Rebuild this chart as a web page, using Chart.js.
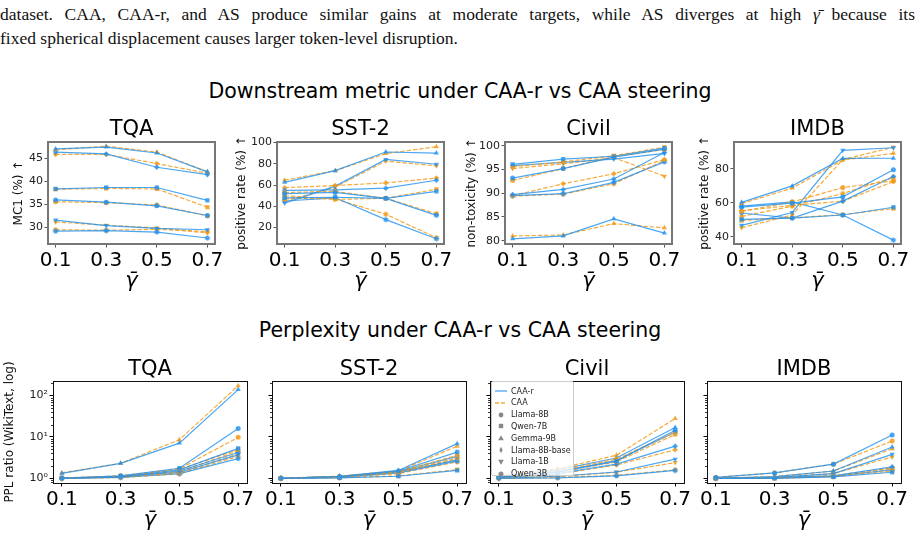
<!DOCTYPE html>
<html>
<head>
<meta charset="utf-8">
<script src="https://cdn.jsdelivr.net/npm/chart.js@4.4.1/dist/chart.umd.min.js"></script>
<style>
  html, body { margin: 0; padding: 0; background: #fff; }
  body { position: relative; width: 920px; height: 539px; overflow: hidden; font-family: "DejaVu Sans", sans-serif; color: #000; }
  .para { position: absolute; left: 0; font-family: "Liberation Serif", serif; font-size: 17.5px; line-height: 24px; color: #111; }
  #line1 { top: 2px; width: 915px; text-align: justify; text-align-last: justify; }
  #line2 { top: 26px; white-space: nowrap; }
  .sup { position: absolute; left: 0; width: 920px; text-align: center; font-size: 20.5px; line-height: 24px; }
  .ptitle { position: absolute; text-align: center; font-size: 21px; line-height: 24px; }
  canvas { position: absolute; }
  #legend { position: absolute; left: 491px; top: 381px; width: 83px; height: 95px; box-sizing: border-box;
            border: 1px solid #ccc; border-radius: 2px; background: rgba(255,255,255,0.8); z-index: 5; }
  .lrow { position: absolute; left: 3px; height: 12px; display: flex; align-items: center; font-size: 8px; color: #222; }
  .lrow svg { width: 12px; height: 8px; margin-right: 4px; }
</style>
</head>
<body>
<div class="para" id="line1">dataset. CAA, CAA-r, and AS produce similar gains at moderate targets, while AS diverges at high <i>γ̄</i> because its</div>
<div class="para" id="line2">fixed spherical displacement causes larger token-level disruption.</div>
<div class="sup" style="top:79px">Downstream metric under CAA-r vs CAA steering</div>
<div class="sup" style="top:318px">Perplexity under CAA-r vs CAA steering</div>
<div id="legend"></div>
<script>
const gammaTicks = [0.1, 0.3, 0.5, 0.7];
const models = ['Llama-8B', 'Qwen-7B', 'Gemma-9B', 'Llama-8B-base', 'Llama-1B', 'Qwen-3B'];
const datasetNames = ['TQA', 'SST-2', 'Civil', 'IMDB'];

const tqaTicks = [30, 35, 40, 45];
const sstTicks = [20, 40, 60, 80, 100];
const civilTicks = [80, 85, 90, 95, 100];
const imdbTicks = [40, 60, 80];
const logTickValues = [1, 10, 100];
const logTickLabels = ['10\u2070', '10\u00B9', '10\u00B2'];

// downstream metric, rows follow `models`
const tqaCaaR = [[36.0, 35.5, 34.7, 32.6], [38.4, 38.7, 38.7, 35.9], [47.1, 47.5, 46.2, 42.1],
                 [46.4, 46.0, 43.1, 41.5], [31.6, 30.4, 29.8, 29.5], [29.2, 29.3, 29.0, 27.7]];
const tqaCaa  = [[35.6, 35.4, 34.9, 32.5], [38.3, 38.5, 38.4, 34.4], [46.9, 47.7, 46.4, 42.1],
                 [45.9, 45.9, 43.9, 41.8], [31.2, 30.5, 29.9, 28.8], [29.5, 29.4, 29.6, 29.1]];
const sstCaaR = [[52, 53, 47.5, 31.5], [48, 48.5, 47.5, 54], [62.5, 73.5, 91, 90],
                 [55, 55.5, 57, 64.5], [43, 59, 84, 79.5], [45, 48, 27.5, 9.5]];
const sstCaa  = [[53, 54, 47.5, 33], [50, 46.5, 47.5, 56], [64.5, 73.5, 89.5, 96],
                 [57.5, 59.5, 62, 66.5], [45, 58, 82.5, 78], [47.5, 47, 32.5, 10.5]];
const civilCaaR = [[93.2, 95.2, 97.6, 99.3], [96.1, 97.2, 97.8, 99.5], [80.4, 81.0, 84.6, 81.6],
                   [89.7, 90.8, 93.0, 98.6], [95.8, 96.5, 97.2, 98.4], [89.5, 89.9, 92.3, 96.6]];
const civilCaa  = [[92.7, 95.2, 97.7, 99.2], [95.6, 96.6, 97.9, 99.7], [81.0, 81.2, 83.6, 82.7],
                   [89.5, 92.0, 94.1, 97.1], [95.2, 96.2, 97.5, 93.6], [89.4, 89.8, 92.0, 96.9]];
const imdbCaaR = [[57.5, 59.8, 63.5, 79.5], [50.2, 51.0, 52.8, 57.4], [60.3, 70.0, 86.2, 86.3],
                  [54.0, 51.0, 61.0, 75.5], [46.7, 54.3, 91.0, 92.5], [58.0, 60.5, 52.8, 38.0]];
const imdbCaa  = [[55.0, 60.5, 69.0, 73.0], [49.6, 51.2, 53.0, 56.6], [59.5, 68.7, 85.2, 89.2],
                  [55.3, 58.5, 61.0, 72.5], [45.3, 52.8, 85.5, 92.8], [52.0, 58.0, 65.5, 75.0]];

// perplexity ratio
const pplTqaCaaR = [[1.0, 1.15, 1.75, 16], [1.02, 1.1, 1.6, 5.3], [1.32, 2.3, 7.1, 140],
                    [1.0, 1.08, 1.5, 4.2], [1.0, 1.1, 1.4, 3.7], [1.0, 1.05, 1.3, 3.0]];
const pplTqaCaa  = [[1.0, 1.15, 1.7, 9.8], [1.03, 1.12, 1.65, 5.0], [1.35, 2.3, 8.6, 173],
                    [1.0, 1.1, 1.45, 4.6], [1.01, 1.06, 1.35, 3.9], [1.0, 1.04, 1.28, 3.4]];
const pplSstCaaR = [[1.0, 1.1, 1.5, 4.3], [1.0, 1.02, 1.12, 1.55], [1.0, 1.12, 1.55, 6.9],
                    [1.0, 1.08, 1.45, 3.4], [1.0, 1.1, 1.4, 2.8], [1.0, 1.05, 1.35, 2.6]];
const pplSstCaa  = [[1.0, 1.1, 1.45, 3.6], [1.0, 1.03, 1.14, 1.62], [1.0, 1.13, 1.5, 6.0],
                    [1.0, 1.08, 1.4, 3.1], [1.0, 1.1, 1.4, 2.85], [1.0, 1.05, 1.3, 2.5]];
const pplCivilCaaR = [[1.05, 1.4, 2.6, 14.5], [1.05, 1.45, 2.7, 13], [1.1, 1.6, 3.1, 17],
                      [1.02, 1.3, 2.2, 6.0], [1.0, 1.12, 1.42, 2.9], [1.0, 1.03, 1.15, 1.55]];
const pplCivilCaa  = [[1.05, 1.5, 2.9, 13], [1.05, 1.4, 2.5, 11.5], [1.15, 1.7, 3.6, 28],
                      [1.02, 1.25, 2.1, 4.9], [1.0, 1.1, 1.4, 2.4], [1.0, 1.04, 1.18, 1.6]];
const pplImdbCaaR = [[1.05, 1.35, 2.2, 11.2], [1.0, 1.0, 1.08, 1.4], [1.0, 1.1, 1.5, 5.7],
                     [1.0, 1.05, 1.15, 1.9], [1.0, 1.05, 1.3, 3.8], [1.0, 1.02, 1.12, 1.6]];
const pplImdbCaa  = [[1.05, 1.35, 2.2, 8.0], [1.0, 1.0, 1.1, 1.5], [1.0, 1.1, 1.5, 5.2],
                     [1.0, 1.05, 1.15, 1.8], [1.0, 1.05, 1.3, 3.3], [1.0, 1.02, 1.12, 1.7]];

Chart.defaults.font.family = '"DejaVu Sans", sans-serif';
Chart.defaults.color = '#000';

const blue = 'rgba(30,144,240,0.8)';
const orange = 'rgba(245,155,25,0.85)';
const gammaBar = '\u03B3\u0304';

function hexMarker(color, r) {
  const c = document.createElement('canvas');
  const s = Math.ceil(2 * r + 2);
  c.width = c.height = s;
  const g = c.getContext('2d');
  g.fillStyle = color;
  g.beginPath();
  for (let k = 0; k < 6; k++) {
    const a = Math.PI / 6 + k * Math.PI / 3;
    g.lineTo(s / 2 + r * Math.cos(a), s / 2 + r * Math.sin(a));
  }
  g.closePath();
  g.fill();
  return c;
}
const hexBlue = hexMarker(blue, 2.7), hexOrange = hexMarker(orange, 2.7);

const markerStyle = ['circle', 'rect', 'triangle', 'rectRot', 'triangle', null];
const markerRot = [0, 0, 0, 0, 180, 0];
const markerSize = [2.5, 3, 3, 2.8, 3, 2.7];

function series(vals, k, isCaa) {
  const color = isCaa ? orange : blue;
  return {
    data: vals.map((v, i) => ({ x: gammaTicks[i], y: v })),
    borderColor: color,
    backgroundColor: color,
    borderWidth: 1.2,
    borderDash: isCaa ? [4.4, 1.9] : [],
    pointStyle: k === 5 ? (isCaa ? hexOrange : hexBlue) : markerStyle[k],
    rotation: markerRot[k],
    pointRadius: markerSize[k],
    pointBorderWidth: 0,
    tension: 0
  };
}

function buildSets(caaR, caa) {
  const out = [];
  models.forEach((m, k) => {
    out.push(series(caaR[k], k, false));
    out.push(series(caa[k], k, true));
  });
  return out;
}

const framePlugin = {
  id: 'frame',
  afterDraw(chart, args, o) {
    const { ctx, chartArea: a } = chart;
    ctx.save();
    if (o.minor) {
      const ys = chart.scales.y;
      ctx.strokeStyle = '#000';
      ctx.lineWidth = 0.8;
      for (let e = -1; e <= 2; e++) {
        for (let m = 2; m <= 9; m++) {
          const v = m * Math.pow(10, e);
          if (v < ys.min || v > ys.max) continue;
          const py = Math.round(ys.getPixelForValue(v)) + 0.5;
          ctx.beginPath();
          ctx.moveTo(a.left, py);
          ctx.lineTo(a.left - 2, py);
          ctx.stroke();
        }
      }
    }
    ctx.strokeStyle = o.color;
    ctx.lineWidth = o.width;
    const off = o.width % 2 ? 0.5 : 0;
    ctx.strokeRect(a.left + off, a.top + off, a.right - a.left, a.bottom - a.top);
    ctx.restore();
  }
};

const PR = 14, XH = 50;

function makePanel(p) {
  const cv = document.createElement('canvas');
  const W = p.yw + p.w + PR, H = p.pt + p.h + XH;
  cv.width = W; cv.height = H;
  cv.style.left = (p.left - p.yw) + 'px';
  cv.style.top = (p.top - p.pt) + 'px';
  cv.style.width = W + 'px'; cv.style.height = H + 'px';
  document.body.appendChild(cv);

  const t = document.createElement('div');
  t.className = 'ptitle';
  t.textContent = p.title;
  t.style.left = p.left + 'px';
  t.style.width = p.w + 'px';
  t.style.top = (p.titleY - 12) + 'px';
  document.body.appendChild(t);

  const tickCol = p.log ? '#000' : '#555';
  const yScale = {
    type: p.log ? 'logarithmic' : 'linear',
    min: p.ymin, max: p.ymax,
    afterBuildTicks: s => { s.ticks = p.yticks.map(v => ({ value: v, major: false })); },
    ticks: {
      display: p.ylabels,
      font: { size: 11 }, color: '#222', padding: 1.5, autoSkip: false,
      callback: v => p.log ? logTickLabels[logTickValues.indexOf(v)] : String(v)
    },
    grid: { drawOnChartArea: false, drawTicks: true, tickLength: 3.5, tickColor: tickCol, tickWidth: 1 },
    border: { display: false },
    title: { display: !!p.ytitle, text: p.ytitle, font: { size: 12 }, color: '#111', padding: { top: p.ytPad, bottom: 0 } },
    afterFit: s => { s.width = p.yw; s.paddingTop = 0; s.paddingBottom = 0; }
  };
  new Chart(cv, {
    type: 'line',
    data: { datasets: buildSets(p.caaR, p.caa) },
    options: {
      responsive: false, animation: false, devicePixelRatio: 1,
      layout: { padding: { left: 0, right: PR, top: p.pt, bottom: 0 } },
      plugins: {
        legend: { display: false }, tooltip: { enabled: false },
        frame: { color: p.log ? '#111' : '#777', width: p.log ? 1 : 2, minor: p.log }
      },
      scales: {
        x: {
          type: 'linear', min: 0.07, max: 0.73,
          afterBuildTicks: s => { s.ticks = gammaTicks.map(v => ({ value: v })); },
          ticks: { font: { size: 20 }, color: '#000', padding: 1, maxRotation: 0, autoSkip: false,
                   callback: v => v.toFixed(1) },
          grid: { drawOnChartArea: false, drawTicks: true, tickLength: 3.5, tickColor: tickCol, tickWidth: 1 },
          border: { display: false },
          title: { display: true, text: gammaBar, font: { size: 21, style: 'italic' }, color: '#000', padding: { top: 0, bottom: 0 } },
          afterFit: s => { s.height = XH; s.paddingLeft = 0; s.paddingRight = 0; }
        },
        y: yScale
      }
    },
    plugins: [framePlugin]
  });
}

const topRow = [
  { left: 48,  ylabel: 'MC1 (%) \u2191', ymin: 26.4, ymax: 48.6, yticks: tqaTicks, caaR: tqaCaaR, caa: tqaCaa, ytPad: 11.8 },
  { left: 277, ylabel: 'positive rate (%) \u2191', ymin: 4.6, ymax: 100.4, yticks: sstTicks, caaR: sstCaaR, caa: sstCaa, ytPad: 5.8 },
  { left: 505, ylabel: 'non-toxicity (%) \u2191', ymin: 79.3, ymax: 100.8, yticks: civilTicks, caaR: civilCaaR, caa: civilCaa, ytPad: 7.3 },
  { left: 734, ylabel: 'positive rate (%) \u2191', ymin: 35.7, ymax: 95.9, yticks: imdbTicks, caaR: imdbCaaR, caa: imdbCaa, ytPad: 11.8 }
];
topRow.forEach((p, i) => makePanel({
  left: p.left, top: 142, w: 167, h: 102, yw: 48, pt: 10, title: datasetNames[i], titleY: 128,
  log: false, ymin: p.ymin, ymax: p.ymax, yticks: p.yticks, ylabels: true,
  ytitle: p.ylabel, ytPad: p.ytPad, caaR: p.caaR, caa: p.caa
}));

const bottomRow = [
  { left: 53,  caaR: pplTqaCaaR, caa: pplTqaCaa },
  { left: 272, caaR: pplSstCaaR, caa: pplSstCaa },
  { left: 490, caaR: pplCivilCaaR, caa: pplCivilCaa },
  { left: 707, caaR: pplImdbCaaR, caa: pplImdbCaa }
];
bottomRow.forEach((p, i) => makePanel({
  left: p.left, top: 381, w: 194, h: 102, yw: i === 0 ? 53 : 10, pt: 30, title: datasetNames[i], titleY: 368,
  log: true, ymin: 0.77, ymax: 226, yticks: logTickValues, ylabels: i === 0,
  ytitle: i === 0 ? 'PPL ratio (WikiText, log)' : '', ytPad: 2.8, caaR: p.caaR, caa: p.caa
}));

// legend
const legendEntries = [
  { label: 'CAA-r', svg: '<line x1="0" y1="4" x2="12" y2="4" stroke="' + blue + '" stroke-width="1.3"/>' },
  { label: 'CAA', svg: '<line x1="0" y1="4" x2="12" y2="4" stroke="' + orange + '" stroke-width="1.3" stroke-dasharray="4 2"/>' },
  { label: models[0], svg: '<circle cx="6" cy="4" r="2.4" fill="#888"/>' },
  { label: models[1], svg: '<rect x="3.8" y="1.8" width="4.4" height="4.4" fill="#888"/>' },
  { label: models[2], svg: '<polygon points="6,1.2 8.8,6.2 3.2,6.2" fill="#888"/>' },
  { label: models[3], svg: '<polygon points="6,0.8 7.6,4 6,7.2 4.4,4" fill="#888"/>' },
  { label: models[4], svg: '<polygon points="3.2,1.8 8.8,1.8 6,6.8" fill="#888"/>' },
  { label: models[5], svg: '<polygon points="6,1.3 8.4,2.7 8.4,5.3 6,6.7 3.6,5.3 3.6,2.7" fill="#888"/>' }
];
const leg = document.getElementById('legend');
legendEntries.forEach((e, i) => {
  const row = document.createElement('div');
  row.className = 'lrow';
  row.style.top = (3 + i * 11.8) + 'px';
  row.innerHTML = '<svg viewBox="0 0 12 8">' + e.svg + '</svg><span>' + e.label + '</span>';
  leg.appendChild(row);
});
</script>
</body>
</html>
